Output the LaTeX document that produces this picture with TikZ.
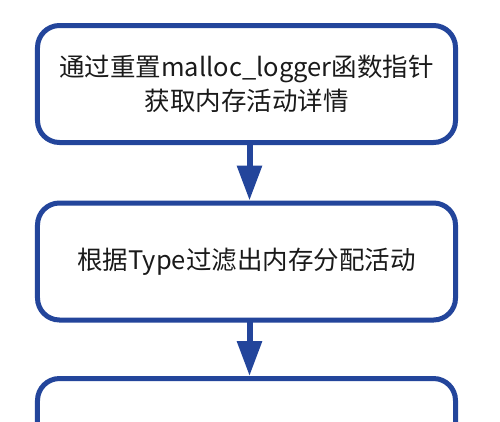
\documentclass[tikz,border=0pt]{standalone}
\usepackage{fontspec}
\setmainfont{Noto Sans CJK SC}
\usetikzlibrary{arrows.meta}
\definecolor{boxblue}{RGB}{35,69,155}
\definecolor{txt}{RGB}{26,26,26}
\tikzset{
  stepbox/.style={draw=boxblue, line width=5bp, fill=white, rounded corners=22bp,
    minimum width=418bp, minimum height=117bp, align=center, text=txt,
    font=\fontsize{25.5bp}{34.5bp}\selectfont, inner sep=0pt},
  flowarrow/.style={draw=boxblue, line width=6bp, -{Triangle[length=35bp,width=24bp]}, shorten <=-1bp}
}
\begin{document}
\begin{tikzpicture}[x=1bp,y=-1bp]
\clip (0,0) rectangle (500,421);
\fill[white] (0,0) rectangle (500,421);
\node[stepbox] (b1) at (246.5,84) {\raisebox{-2bp}{\parbox{400bp}{\centering 通过重置malloc\_logger函数指针\\获取内存活动详情}}};
\node[stepbox] (b2) at (246.5,261.5) {根据Type过滤出内存分配活动};
\node[stepbox] (b3) at (246.5,437) {};
\draw[flowarrow] ([xshift=3bp]b1.south) -- ([xshift=3bp]b2.north);
\draw[flowarrow] ([xshift=3bp]b2.south) -- ([xshift=3bp]b3.north);
\end{tikzpicture}
\end{document}
